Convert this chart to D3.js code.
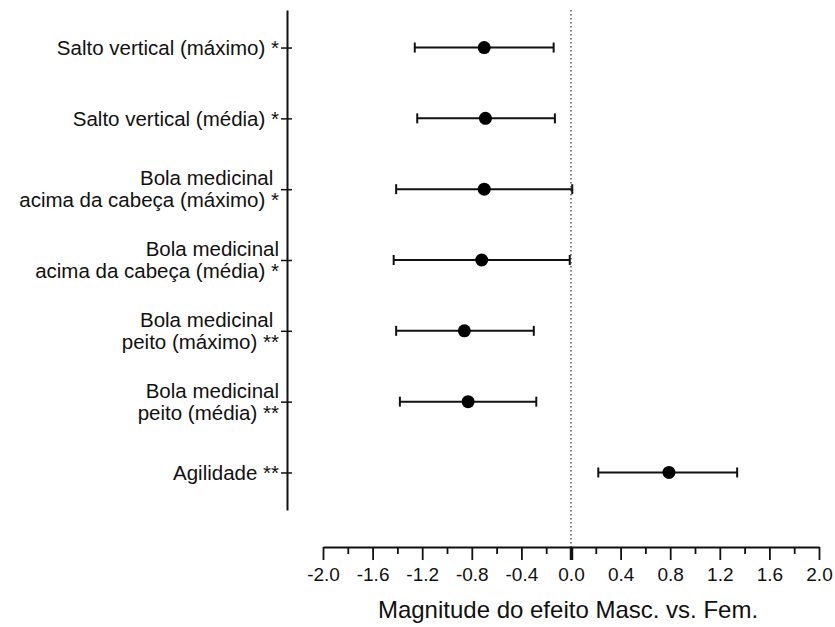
<!DOCTYPE html>
<html>
<head>
<meta charset="utf-8">
<script src="https://cdn.jsdelivr.net/npm/d3@7"></script>
<style>
  body { margin: 0; background: #fff; }
  svg { font-family: "Liberation Sans", Arial, sans-serif; }
  .lbl { font-size: 20.5px; fill: #111; white-space: pre; }
  .xtick text { font-size: 19px; fill: #111; }
</style>
</head>
<body>
<div id="chart"></div>
<script>
// outcome labels, one array of lines per row (top to bottom)
const categories = [
  ["Salto vertical (máximo) *"],
  ["Salto vertical (média) *"],
  ["Bola medicinal ", "acima da cabeça (máximo) *"],
  ["Bola medicinal", "acima da cabeça (média) *"],
  ["Bola medicinal ", "peito (máximo) **"],
  ["Bola medicinal", "peito (média) **"],
  ["Agilidade **"]
];
const effect = [-0.70, -0.69, -0.70, -0.72, -0.86, -0.83, 0.79];
const ciLow  = [-1.26, -1.24, -1.41, -1.43, -1.41, -1.38, 0.22];
const ciHigh = [-0.14, -0.13, 0.01, -0.01, -0.30, -0.28, 1.34];
const xTicks = [-2.0, -1.6, -1.2, -0.8, -0.4, 0.0, 0.4, 0.8, 1.2, 1.6, 2.0];
const xMinor = [-1.8, -1.4, -1.0, -0.6, -0.2, 0.2, 0.6, 1.0, 1.4, 1.8];
const xTitle = "Magnitude do efeito Masc. vs. Fem.";

const width = 835, height = 627;
const svg = d3.select("#chart").append("svg")
  .attr("width", width).attr("height", height);

const x = d3.scaleLinear().domain([-2, 2]).range([323, 819]);
const rows = categories.map((c, i) => i);
const y = d3.scalePoint().domain(rows).range([10, 510]).padding(0.53);

// y axis
const yAxis = svg.append("g")
  .attr("transform", "translate(287,0)")
  .call(d3.axisLeft(y).tickSizeOuter(0).tickSizeInner(6).tickFormat(""));
yAxis.attr("font-family", null);
yAxis.select(".domain").attr("stroke", "#111").attr("stroke-width", 2);
yAxis.selectAll(".tick line").attr("x1", 5).attr("stroke", "#111").attr("stroke-width", 1.5);

// row labels
const lineGap = 22;
categories.forEach((lines, i) => {
  const t = svg.append("text").attr("class", "lbl")
    .attr("text-anchor", "end")
    .attr("y", y(i) - (lines.length - 1) * lineGap / 2);
  lines.forEach((ln, j) => {
    t.append("tspan").attr("x", 279).attr("dy", j === 0 ? "0.35em" : lineGap + "px").text(ln);
  });
});

// zero reference line
svg.append("line")
  .attr("x1", x(0)).attr("x2", x(0))
  .attr("y1", 10).attr("y2", 547)
  .attr("stroke", "#555").attr("stroke-width", 1.5)
  .attr("stroke-dasharray", "1.5,2.5");

// x axis
const axisY = 547;
const xMinorAxis = svg.append("g")
  .attr("transform", `translate(0,${axisY})`)
  .call(d3.axisBottom(x).tickValues(xMinor).tickSize(7).tickSizeOuter(0).tickFormat(""));
xMinorAxis.select(".domain").remove();
xMinorAxis.selectAll(".tick line").attr("stroke", "#111").attr("stroke-width", 1.8);

const xAxis = svg.append("g").attr("class", "xtick")
  .attr("transform", `translate(0,${axisY})`)
  .call(d3.axisBottom(x).tickValues(xTicks).tickSize(13).tickSizeOuter(0)
    .tickPadding(8).tickFormat(d => d3.format(".1f")(d).replace("−", "-")));
xAxis.attr("font-family", null).attr("font-size", null);
xAxis.select(".domain").attr("stroke", "#111").attr("stroke-width", 2);
xAxis.selectAll(".tick line").attr("stroke", "#111")
  .attr("stroke-width", d => d === 0 ? 3.5 : 1.8);

svg.append("text")
  .attr("x", 568).attr("y", 618)
  .attr("text-anchor", "middle")
  .attr("font-size", 24).attr("fill", "#111")
  .text(xTitle);

// error bars
const bars = svg.append("g").selectAll("g.row").data(rows).join("g").attr("class", "row");
bars.append("line")
  .attr("x1", i => x(ciLow[i])).attr("x2", i => x(ciHigh[i]))
  .attr("y1", i => y(i)).attr("y2", i => y(i))
  .attr("stroke", "#111").attr("stroke-width", 2);
[ciLow, ciHigh].forEach(arr => {
  bars.append("line")
    .attr("x1", i => x(arr[i])).attr("x2", i => x(arr[i]))
    .attr("y1", i => y(i) - 5).attr("y2", i => y(i) + 5)
    .attr("stroke", "#111").attr("stroke-width", 2);
});
bars.append("circle")
  .attr("cx", i => x(effect[i])).attr("cy", i => y(i))
  .attr("r", 6.5).attr("fill", "#000");
</script>
</body>
</html>
